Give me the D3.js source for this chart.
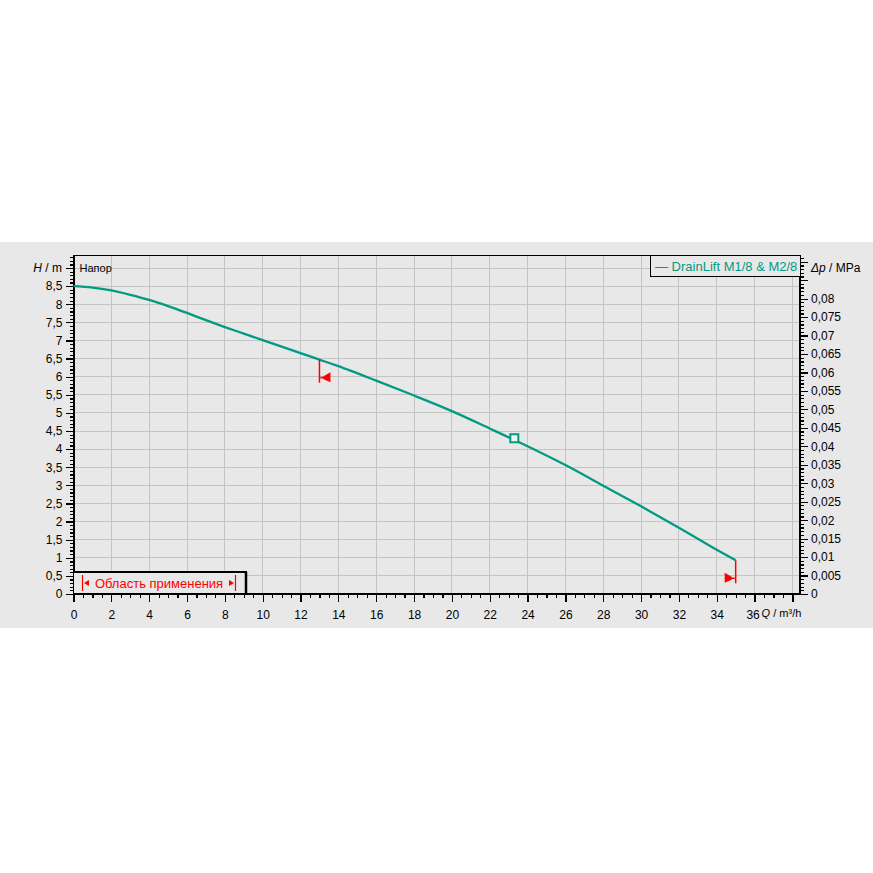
<!DOCTYPE html>
<html>
<head>
<meta charset="utf-8">
<script src="https://cdn.jsdelivr.net/npm/d3@7"></script>
<style>
  html, body { margin: 0; padding: 0; background: #ffffff; }
  svg { display: block; font-family: "Liberation Sans", Arial, sans-serif; }
</style>
</head>
<body>
<svg id="chart" width="873" height="873"></svg>
<script>
// Pump curve: flow Q (m³/h) vs head H (m)
const flowQ = [0, 1, 2, 3, 4, 5, 6, 7, 8, 9, 10, 11, 12, 13, 14, 16, 18, 20, 22, 24, 26, 28, 30, 32, 34, 35];
const headH = [8.5, 8.46, 8.38, 8.26, 8.12, 7.95, 7.76, 7.56, 7.37, 7.19, 7.01, 6.83, 6.65, 6.47, 6.29, 5.89, 5.48, 5.05, 4.57, 4.08, 3.56, 2.99, 2.42, 1.83, 1.22, 0.93];
const dutyPoint = [23.3, 4.3];           // [Q, H]
const rangeLimits = [13, 35];            // application range limits, Q
const xTickLabels = [0, 2, 4, 6, 8, 10, 12, 14, 16, 18, 20, 22, 24, 26, 28, 30, 32, 34, 36];
const yTickLabels = [0, 0.5, 1, 1.5, 2, 2.5, 3, 3.5, 4, 4.5, 5, 5.5, 6, 6.5, 7, 7.5, 8, 8.5];
const pTickLabels = [0, 0.005, 0.01, 0.015, 0.02, 0.025, 0.03, 0.035, 0.04, 0.045, 0.05, 0.055, 0.06, 0.065, 0.07, 0.075, 0.08];
const seriesName = "DrainLift M1/8 & M2/8";
const rangeLabel = "Область применения";
const headLabel = "Напор";

const M_PER_MPA = 101.94;                // metres of water column per MPa

const svg = d3.select("#chart");
const teal = "#009b82";
const red = "#ff0000";

const plot = { left: 73.5, right: 800, top: 255, bottom: 594 };
const xMax = 38.4, yMax = 9.36;

const x = d3.scaleLinear().domain([0, xMax]).range([plot.left, plot.right]);
const y = d3.scaleLinear().domain([0, yMax]).range([plot.bottom, plot.top]);
const yp = d3.scaleLinear().domain([0, yMax / M_PER_MPA]).range([plot.bottom, plot.top]);

const comma = v => String(+v.toFixed(4)).replace(".", ",");

// grey band behind the chart
svg.append("rect").attr("x", 0).attr("y", 242).attr("width", 873).attr("height", 386).attr("fill", "#e8e8e8");
svg.append("rect").attr("x", plot.left).attr("y", plot.top)
  .attr("width", plot.right - plot.left).attr("height", plot.bottom - plot.top).attr("fill", "#e8e8e8");

// grid
const grid = svg.append("g").attr("stroke", "#c4c4c4").attr("stroke-width", 1).attr("shape-rendering", "crispEdges");
d3.range(2, xMax, 2).forEach(q => {
  grid.append("line").attr("x1", x(q)).attr("x2", x(q)).attr("y1", plot.top).attr("y2", plot.bottom);
});
d3.range(0.5, yMax, 0.5).forEach(h => {
  grid.append("line").attr("x1", plot.left).attr("x2", plot.right).attr("y1", y(h)).attr("y2", y(h));
});

// axes
function styleAxis(g) {
  g.select(".domain").remove();
  g.selectAll("line").attr("stroke", "#000").attr("stroke-width", 1.2).attr("shape-rendering", "crispEdges");
  g.selectAll("text").attr("fill", "#000").attr("font-size", 12);
}

const xMinor = d3.range(0, xMax, 0.5).filter(v => v % 2 !== 0);
svg.append("g").attr("transform", `translate(0,${plot.bottom})`)
  .call(d3.axisBottom(x).tickValues(xMinor).tickSize(4).tickFormat(""))
  .call(styleAxis);
svg.append("g").attr("transform", `translate(0,${plot.bottom})`)
  .call(d3.axisBottom(x).tickValues(d3.range(0, xMax, 2)).tickSize(8).tickPadding(8)
    .tickFormat(v => xTickLabels.includes(v) ? comma(v) : ""))
  .call(styleAxis)
  .call(g => g.selectAll(".tick text").filter(v => v === 36).attr("dx", -2));

const yMinor = d3.range(0, yMax, 0.1).map(v => +v.toFixed(2)).filter(v => Math.abs(v * 2 - Math.round(v * 2)) > 1e-6);
svg.append("g").attr("transform", `translate(${plot.left},0)`)
  .call(d3.axisLeft(y).tickValues(yMinor).tickSize(4).tickFormat(""))
  .call(styleAxis);
svg.append("g").attr("transform", `translate(${plot.left},0)`)
  .call(d3.axisLeft(y).tickValues(d3.range(0, yMax, 0.5)).tickSize(8).tickPadding(3)
    .tickFormat(v => yTickLabels.includes(v) ? comma(v) : ""))
  .call(styleAxis);

const pMaxV = yMax / M_PER_MPA;
const pMinor = d3.range(0, pMaxV, 0.001).map(v => +v.toFixed(3)).filter(v => Math.round(v * 1000) % 5 !== 0);
svg.append("g").attr("transform", `translate(${plot.right},0)`)
  .call(d3.axisRight(yp).tickValues(pMinor).tickSize(4).tickFormat(""))
  .call(styleAxis);
svg.append("g").attr("transform", `translate(${plot.right},0)`)
  .call(d3.axisRight(yp).tickValues(d3.range(0, pMaxV, 0.005).map(v => +v.toFixed(3))).tickSize(8).tickPadding(3)
    .tickFormat(v => pTickLabels.includes(v) ? comma(v) : ""))
  .call(styleAxis);

// frame lines
const frame = svg.append("g").attr("stroke", "#000").attr("shape-rendering", "crispEdges");
frame.append("line").attr("x1", plot.left).attr("x2", plot.right).attr("y1", plot.top).attr("y2", plot.top).attr("stroke-width", 1);
frame.append("line").attr("x1", plot.left - 1).attr("x2", plot.right + 1).attr("y1", plot.bottom).attr("y2", plot.bottom).attr("stroke-width", 2);
frame.append("line").attr("x1", plot.left).attr("x2", plot.left).attr("y1", plot.top).attr("y2", plot.bottom).attr("stroke-width", 2);
frame.append("line").attr("x1", plot.right).attr("x2", plot.right).attr("y1", plot.top).attr("y2", plot.bottom).attr("stroke-width", 2);

// axis titles
const lblY = y(9) + 4;
const ht = svg.append("text").attr("x", 62).attr("y", lblY).attr("text-anchor", "end").attr("font-size", 12).attr("fill", "#000");
ht.append("tspan").attr("font-style", "italic").text("H");
ht.append("tspan").text(" / m");

const pt = svg.append("text").attr("x", plot.right + 11).attr("y", lblY).attr("font-size", 12).attr("fill", "#000");
pt.append("tspan").attr("font-style", "italic").text("Δp");
pt.append("tspan").text(" / MPa");

const qt = svg.append("text").attr("x", x(36) + 7).attr("y", plot.bottom + 23).attr("font-size", 11).attr("fill", "#000");
qt.append("tspan").attr("font-style", "italic").text("Q");
qt.append("tspan").text(" / m³/h");

svg.append("text").attr("x", plot.left + 6).attr("y", lblY).attr("font-size", 11).attr("fill", "#000").text(headLabel);

// pump curve
const pts = flowQ.map((q, i) => [q, headH[i]]);
svg.append("path").datum(pts)
  .attr("fill", "none").attr("stroke", teal).attr("stroke-width", 2.3)
  .attr("d", d3.line().x(d => x(d[0])).y(d => y(d[1])).curve(d3.curveCatmullRom.alpha(0.5)));

// duty point
svg.append("rect")
  .attr("x", x(dutyPoint[0]) - 4).attr("y", y(dutyPoint[1]) - 4)
  .attr("width", 8).attr("height", 8)
  .attr("fill", "#f2f2f2").attr("stroke", teal).attr("stroke-width", 2);

// application range limits
const headAt = q => {
  const i = d3.bisectLeft(flowQ, q);
  if (flowQ[i] === q) return headH[i];
  const t = (q - flowQ[i - 1]) / (flowQ[i] - flowQ[i - 1]);
  return headH[i - 1] + t * (headH[i] - headH[i - 1]);
};
rangeLimits.forEach((q, k) => {
  const px = x(q), py = y(headAt(q));
  const bottom = py + 23;
  svg.append("line").attr("x1", px).attr("x2", px).attr("y1", py).attr("y2", bottom)
    .attr("stroke", red).attr("stroke-width", 1.5);
  const dir = k === 0 ? 1 : -1;            // first limit points left, last points right
  const cy = bottom - 5;
  svg.append("path")
    .attr("d", `M${px + dir * 1},${cy - 0.8} L${px + dir * 4},${cy - 0.8} L${px + dir * 4},${cy - 1.5} L${px + dir * 11},${cy - 5.5} L${px + dir * 11},${cy + 4.5} L${px + dir * 4},${cy + 1.5} L${px + dir * 4},${cy + 0.8} L${px + dir * 1},${cy + 0.8} Z`)
    .attr("fill", red);
});

// legend
const lg = svg.append("g");
lg.append("rect").attr("x", 650.5).attr("y", plot.top).attr("width", plot.right - 650.5).attr("height", 21)
  .attr("fill", "#e8e8e8").attr("stroke", "#000").attr("stroke-width", 1).attr("shape-rendering", "crispEdges");
lg.append("text").attr("x", 655).attr("y", plot.top + 16).attr("font-size", 13).attr("fill", teal)
  .text("— " + seriesName);

// application range box
const rb = svg.append("g");
rb.append("rect").attr("x", plot.left).attr("y", 572).attr("width", 246 - plot.left).attr("height", plot.bottom - 572)
  .attr("fill", "#e8e8e8").attr("stroke", "#000").attr("stroke-width", 1.5).attr("shape-rendering", "crispEdges");
rb.append("line").attr("x1", 246).attr("x2", 246).attr("y1", 572).attr("y2", plot.bottom).attr("stroke", "#000").attr("stroke-width", 2.5);
rb.append("line").attr("x1", 82.5).attr("x2", 82.5).attr("y1", 575).attr("y2", 591).attr("stroke", red).attr("stroke-width", 1.2);
rb.append("line").attr("x1", 235.5).attr("x2", 235.5).attr("y1", 575).attr("y2", 591).attr("stroke", red).attr("stroke-width", 1.2);
rb.append("path").attr("d", "M84,583 L89,580 L89,586 Z").attr("fill", red);
rb.append("path").attr("d", "M234,583 L229,580 L229,586 Z").attr("fill", red);
rb.append("text").attr("x", 159).attr("y", 588).attr("text-anchor", "middle").attr("font-size", 13).attr("fill", red)
  .text(rangeLabel);
</script>
</body>
</html>
